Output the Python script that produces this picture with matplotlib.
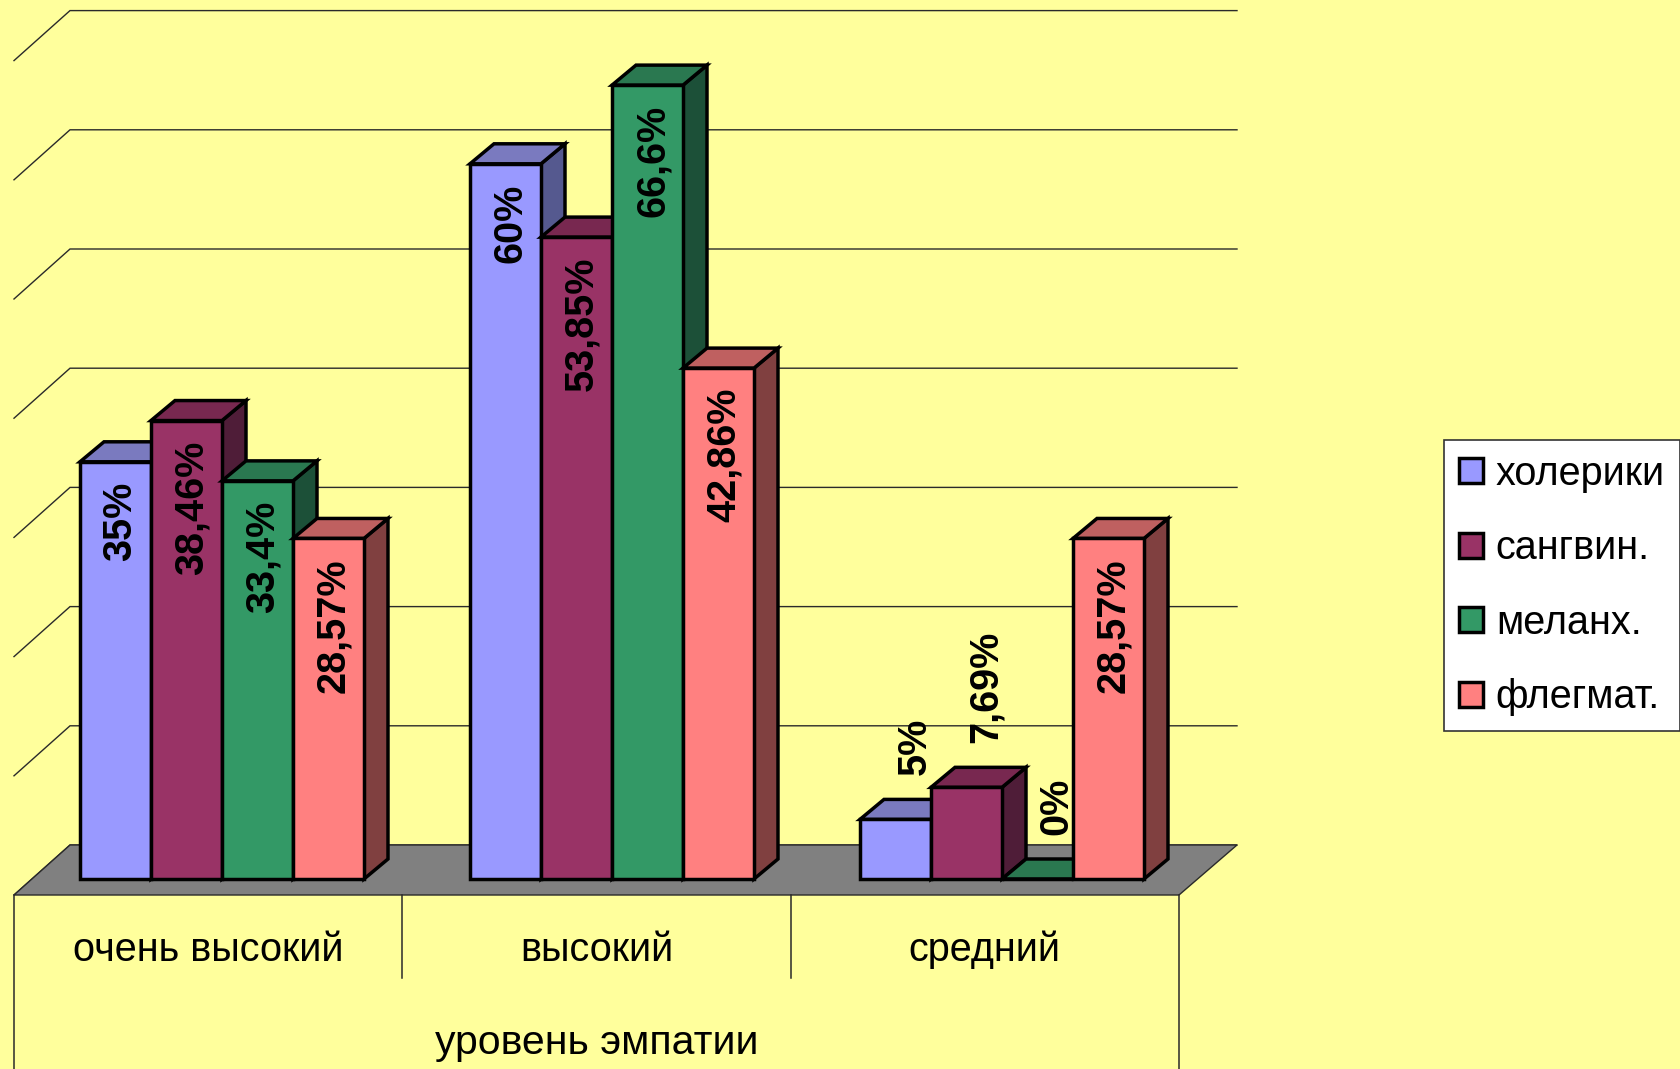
import matplotlib
matplotlib.use("Agg")
import matplotlib.pyplot as plt
from matplotlib.patches import Polygon, Patch

plt.rcParams['font.family'] = ['Liberation Sans', 'DejaVu Sans']

categories = ["очень высокий", "высокий", "средний"]
axis_title = "уровень эмпатии"
series_names = ["холерики", "сангвин.", "меланх.", "флегмат."]
holeriki = [35, 60, 5]
sangvin = [38.46, 53.85, 7.69]
melanh = [33.4, 66.6, 0]
flegmat = [28.57, 42.86, 28.57]
value_labels = [["35%", "60%", "5%"],
                ["38,46%", "53,85%", "7,69%"],
                ["33,4%", "66,6%", "0%"],
                ["28,57%", "42,86%", "28,57%"]]
grid_values = [0, 10, 20, 30, 40, 50, 60, 70]

front_colors = ["#9999FF", "#993366", "#339966", "#FF8080"]
side_colors = ["#55598F", "#4F1D38", "#1C5038", "#804040"]
top_colors = ["#7A7ABF", "#782850", "#2A7850", "#BF6060"]
BG = "#FFFF9C"

W, H = 1680, 1069
fig = plt.figure(figsize=(W / 100, H / 100), dpi=100, facecolor=BG)
ax = fig.add_axes([0, 0, 1, 1])
ax.axis("off")

# scale: one category = 390 px, one percent = 11.92 px
PX_X = 1 / 390
PX_Y = 1 / 11.92
ax.set_xlim(-222 * PX_X, (W - 222) * PX_X)
ax.set_ylim(-(H - 879) * PX_Y, 879 * PX_Y)

bar_w = 71 * PX_X
dx, dy = 24 * PX_X, 20 * PX_Y          # bar depth
wall_y = 34 * PX_Y                     # wall base above the bars' base
floor_y = -16 * PX_Y                   # front edge of floor
left_back, left_front = -152 * PX_X, -208 * PX_X
right_back, right_front = 1015 * PX_X, 957 * PX_X
line_c = "#2a2a2a"
edge_w = 2.5

# back wall grid
for g in grid_values:
    yy = g + wall_y
    ax.plot([left_front, left_back, right_back], [yy - 50 * PX_Y, yy, yy],
            color=line_c, lw=1.0, zorder=1, solid_joinstyle="miter")

# floor
ax.add_patch(Polygon([(left_front, floor_y), (left_back, wall_y), (right_back, wall_y),
                      (right_front, floor_y)], closed=True, facecolor="#808080",
                     edgecolor=line_c, lw=1.0, zorder=2))

# category axis frame
n = len(categories)
step = (right_front - left_front) / n
for i in range(n + 1):
    xx = left_front + i * step
    bottom = -(H - 879) * PX_Y if i in (0, n) else -99 * PX_Y
    ax.plot([xx, xx], [floor_y, bottom], color=line_c, lw=1.1, zorder=2)
for i, c in enumerate(categories):
    ax.text(left_front + (i + 0.5) * step, -71 * PX_Y, c, fontsize=28.5,
            ha="center", va="center", color="black", zorder=20)
ax.text(left_front + 1.5 * step, -164 * PX_Y, axis_title, fontsize=29.5,
        ha="center", va="center", color="black", zorder=20)

# bars
series = [holeriki, sangvin, melanh, flegmat]
z = 3
for cat in range(n):
    for s, vals in enumerate(series):
        v = vals[cat]
        left = cat + (s - 2) * bar_w
        right = left + bar_w
        ax.add_patch(Polygon([(right, 0), (right + dx, dy), (right + dx, v + dy), (right, v)],
                             closed=True, facecolor=side_colors[s], edgecolor="black",
                             lw=edge_w, joinstyle="miter", zorder=z))
        ax.add_patch(Polygon([(left, v), (left + dx, v + dy), (right + dx, v + dy), (right, v)],
                             closed=True, facecolor=top_colors[s], edgecolor="black",
                             lw=edge_w, joinstyle="miter", zorder=z))
        ax.bar(left, v, width=bar_w, align="edge", facecolor=front_colors[s],
               edgecolor="black", linewidth=edge_w, zorder=z + 0.5)
        z += 1

# value labels
for cat in range(n):
    for s, vals in enumerate(series):
        v = vals[cat]
        cx = cat + (s - 1.5) * bar_w
        if v < 10:
            ax.text(cx + 19 * PX_X, v + 44 * PX_Y, value_labels[s][cat], rotation=90,
                    fontsize=28.5, fontweight="bold", ha="center", va="bottom",
                    color="black", zorder=50)
        else:
            ax.text(cx + 5 * PX_X, v - 20 * PX_Y, value_labels[s][cat], rotation=90,
                    fontsize=28.5, fontweight="bold", ha="center", va="top",
                    color="black", zorder=50)

# legend
handles = [Patch(facecolor=front_colors[i], edgecolor="black", linewidth=edge_w, label=series_names[i])
           for i in range(4)]
leg = ax.legend(handles=handles, loc="center left",
                bbox_to_anchor=(1444 / W, 1 - 585.5 / H), bbox_transform=fig.transFigure,
                prop={"size": 28.5}, frameon=True, fancybox=False, facecolor="white",
                edgecolor="#333333", framealpha=1, handlelength=0.6, handleheight=0.6,
                handletextpad=0.33, labelspacing=0.92, borderpad=0.38, borderaxespad=0)
leg.get_frame().set_linewidth(1.2)
leg.set_zorder(60)

fig.savefig("out.png", dpi=100, facecolor=BG)
